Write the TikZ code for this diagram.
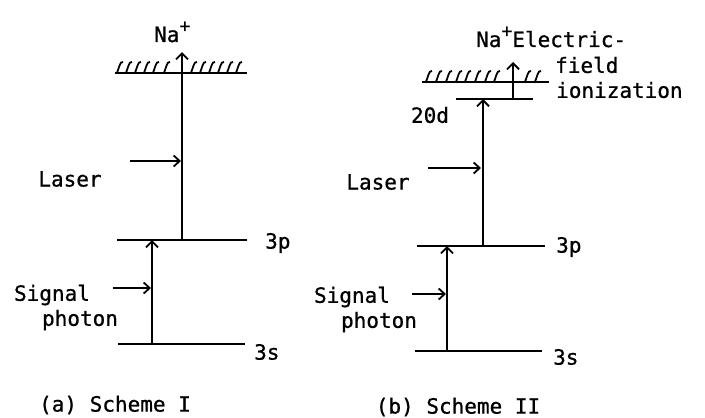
\documentclass[tikz,border=0pt]{standalone}
\usepackage{fontspec}
\newfontfamily\tw[BoldFont=DejaVu Sans Mono,BoldFeatures={FakeBold=0.8}]{DejaVu Sans Mono}
\usetikzlibrary{arrows.meta}
\tikzset{
  lvl/.style={line width=2.8pt},
  arr/.style={line width=2.8pt,-{Straight Barb[length=6pt,width=12pt,line width=1.8pt]}},
  sarr/.style={line width=2.4pt,-{Straight Barb[length=6pt,width=11pt,line width=1.8pt]}},
  hatch/.style={line width=1.8pt},
  lbl/.style={font=\tw\bfseries\fontsize{21}{24}\selectfont,inner sep=0pt},
}
\newcommand{\plussup}{\raisebox{10pt}{\fontsize{18}{18}\selectfont +}}
\newcommand{\hatchmark}[2]{\draw[hatch] (#1-2,#2) .. controls (#1,#2-5) and (#1+1,#2-12) .. (#1+4,#2-11);}
\begin{document}
\begin{tikzpicture}[x=1pt,y=-1pt]
\useasboundingbox[fill=white] (0,0) rectangle (705,418);
% ---------- Scheme I ----------
\coordinate (aIonL) at (115,73); \coordinate (aIonR) at (247,73);
\draw[lvl] (aIonL) -- (aIonR);
\foreach \x in {119,128,137,146,155,166,193,202,211,220,229,238}{\hatchmark{\x}{73}}
\node[lbl,anchor=west] (aNa) at (154,32) {Na\plussup};
\coordinate (a3pL) at (117,240); \coordinate (a3pR) at (247,240);
\draw[lvl] (a3pL) -- (a3pR);
\node[lbl,anchor=west] (a3plab) at (265,243) {3p};
\coordinate (a3sL) at (118,344); \coordinate (a3sR) at (245,344);
\draw[lvl] (a3sL) -- (a3sR);
\node[lbl,anchor=west] (a3slab) at (254,352) {3s};
\coordinate (aLasB) at (182,240); \coordinate (aLasT) at (182,52);
\draw[arr] (aLasB) -- (aLasT);
\coordinate (aSigB) at (152,344); \coordinate (aSigT) at (152,240);
\draw[arr] (aSigB) -- (aSigT);
\coordinate (aLasS) at (130,161); \coordinate (aLasE) at (181,161);
\draw[sarr] (aLasS) -- (aLasE);
\node[lbl] (aLaser) at (70,179) {Laser};
\coordinate (aSigS) at (113,288); \coordinate (aSigE) at (151,288);
\draw[sarr] (aSigS) -- (aSigE);
\node[lbl] (aSignal) at (52,295) {Signal};
\node[lbl] (aPhoton) at (80,320) {photon};
\node[lbl] (aTitle) at (115,405) {(a) Scheme I};
% ---------- Scheme II ----------
\coordinate (bIonL) at (422,82); \coordinate (bIonR) at (549,82);
\draw[lvl] (bIonL) -- (bIonR);
\foreach \x in {428,438,448,458,467,477,487,496,527,537}{\hatchmark{\x}{82}}
\coordinate (b20L) at (456,99); \coordinate (b20R) at (533,99);
\draw[lvl] (b20L) -- (b20R);
\node[lbl] (b20lab) at (430,115) {20d};
\coordinate (bFldB) at (513,99); \coordinate (bFldT) at (513,62);
\draw[arr] (bFldB) -- (bFldT);
\node[lbl,anchor=west] (bNa) at (476,37) {Na\plussup Electric-};
\node[lbl,anchor=west] (bField) at (555,65) {field};
\node[lbl,anchor=west] (bIoniz) at (556,90) {ionization};
\coordinate (b3pL) at (417,246); \coordinate (b3pR) at (545,246);
\draw[lvl] (b3pL) -- (b3pR);
\node[lbl,anchor=west] (b3plab) at (556,247) {3p};
\coordinate (b3sL) at (415,351); \coordinate (b3sR) at (542,351);
\draw[lvl] (b3sL) -- (b3sR);
\node[lbl,anchor=west] (b3slab) at (553,357) {3s};
\coordinate (bLasB) at (483,246); \coordinate (bLasT) at (483,99);
\draw[arr] (bLasB) -- (bLasT);
\coordinate (bSigB) at (447,351); \coordinate (bSigT) at (447,246);
\draw[arr] (bSigB) -- (bSigT);
\coordinate (bLasS) at (428,168); \coordinate (bLasE) at (481,168);
\draw[sarr] (bLasS) -- (bLasE);
\node[lbl] (bLaser) at (378,182) {Laser};
\coordinate (bSigS) at (412,294); \coordinate (bSigE) at (446,294);
\draw[sarr] (bSigS) -- (bSigE);
\node[lbl] (bSignal) at (352,297) {Signal};
\node[lbl] (bPhoton) at (379,322) {photon};
\node[lbl] (bTitle) at (458,407) {(b) Scheme II};
\end{tikzpicture}
\end{document}
